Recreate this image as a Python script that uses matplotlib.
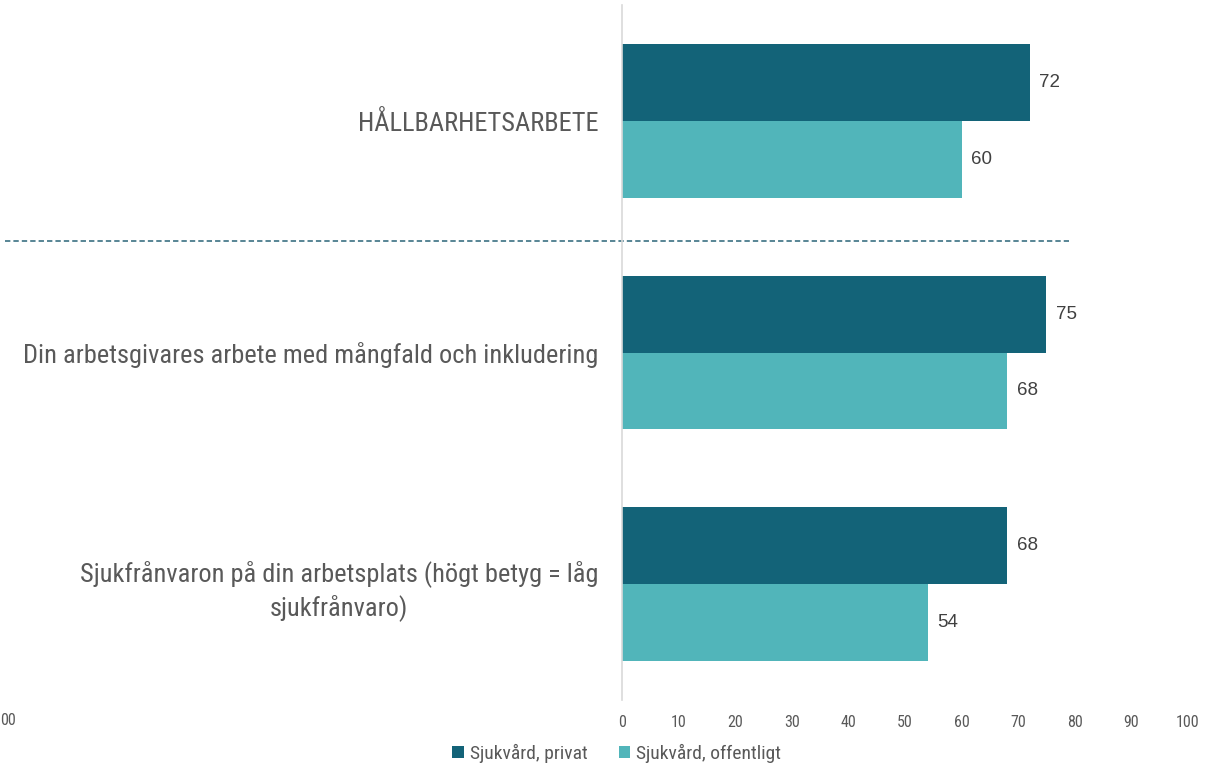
import numpy as np
import matplotlib
matplotlib.use("Agg")
import matplotlib.pyplot as plt

plt.rcParams['font.family'] = ['Roboto Condensed', 'Liberation Sans Narrow', 'Roboto', 'DejaVu Sans']

categories = ["HÅLLBARHETSARBETE",
              "Din arbetsgivares arbete med mångfald och inkludering",
              "Sjukfrånvaron på din arbetsplats (högt betyg = låg\nsjukfrånvaro)"]
privat = [72, 75, 68]
offentligt = [60, 68, 54]
series_names = ["Sjukvård, privat", "Sjukvård, offentligt"]
xticks = [0, 10, 20, 30, 40, 50, 60, 70, 80, 90, 100]

c_priv = '#136378'
c_off = '#51b5ba'
grey = '#595959'

fig = plt.figure(figsize=(12.26, 7.71), dpi=100)
ax = fig.add_axes([0.5073, 0.0921, 0.4617, 0.9014])

y = np.arange(len(categories))
h = 0.332
b1 = ax.barh(y - h / 2, privat, height=h, color=c_priv, label=series_names[0])
b2 = ax.barh(y + h / 2, offentligt, height=h, color=c_off, label=series_names[1])

for bars, vals in ((b1, privat), (b2, offentligt)):
    for bar, v in zip(bars, vals):
        ax.annotate(str(v), (v, bar.get_y() + bar.get_height() / 2),
                    xytext=(7, 0), textcoords='offset points',
                    ha='left', va='center', fontsize=13.5,
                    color='#404040', family='Liberation Sans')

ax.set_xlim(0, 100)
ax.set_ylim(2.5, -0.5)
ax.set_xticks(xticks)
ax.set_xticklabels([str(t) for t in xticks])
ax.tick_params(axis='x', length=0, pad=11, labelsize=11.5, labelcolor=grey)

ax.set_yticks(y)
ax.set_yticklabels(categories)
ax.tick_params(axis='y', length=0, pad=17, labelsize=19, labelcolor=grey)
for t in ax.get_yticklabels():
    t.set_multialignment('center')
    t.set_linespacing(1.35)

for s in ['top', 'right', 'bottom']:
    ax.spines[s].set_visible(False)
ax.spines['left'].set_color('#d9d9d9')
ax.spines['left'].set_linewidth(1.2)

# dashed separator between the sustainability item and the rest
ax.plot([-109, 79], [0.52, 0.52], ls=(0, (3.5, 2)), color='#2a6478',
        lw=1.1, clip_on=False)

fig.text(0.0, 0.066, "00", fontsize=11.5, color=grey, ha='left', va='center')

fig.legend(handles=[b1, b2], labels=series_names, loc='lower center',
           bbox_to_anchor=(0.503, -0.012), ncol=2, frameon=False,
           fontsize=14, labelcolor=grey, handlelength=0.6, handleheight=0.6,
           handletextpad=0.3, columnspacing=1.6)

fig.savefig('out.png', dpi=100)
